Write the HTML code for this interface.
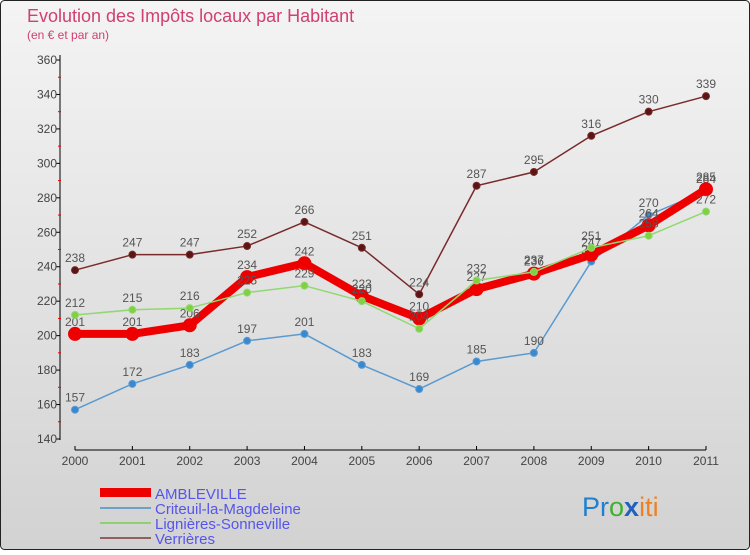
<!DOCTYPE html>
<html><head><meta charset="utf-8"><style>
body{margin:0;width:750px;height:550px;overflow:hidden;font-family:"Liberation Sans",sans-serif}
</style></head><body>
<svg id="c" width="750" height="550" xmlns="http://www.w3.org/2000/svg">
<defs><linearGradient id="bg" x1="0" y1="0" x2="0" y2="1"><stop offset="0" stop-color="#f4f4f4"/><stop offset="1" stop-color="#d2d2d2"/></linearGradient></defs>
<rect x="0.5" y="0.5" width="749" height="549" rx="4" fill="url(#bg)" stroke="#222"/>
<text x="27" y="22" font-size="18" fill="#d04070">Evolution des Impôts locaux par Habitant</text>
<text x="27" y="39" font-size="12" fill="#d04070">(en € et par an)</text>
<g id="axes"></g><g id="series"></g>
<g>
<rect x="100" y="488" width="51" height="9" fill="#e00"/>
<text x="155" y="499" font-size="15" fill="#5555ee">AMBLEVILLE</text>
<line x1="100" y1="508" x2="151" y2="508" stroke="#6fa0c8" stroke-width="2"/>
<text x="155" y="514" font-size="15" fill="#5555ee">Criteuil-la-Magdeleine</text>
<line x1="100" y1="523" x2="151" y2="523" stroke="#90d070" stroke-width="2"/>
<text x="155" y="529" font-size="15" fill="#5555ee">Lignières-Sonneville</text>
<line x1="100" y1="538" x2="151" y2="538" stroke="#906060" stroke-width="2"/>
<text x="155" y="544" font-size="15" fill="#5555ee">Verrières</text>
</g>
<text x="582" y="516" font-size="27"><tspan fill="#2080d0">Pr</tspan><tspan fill="#40b030">o</tspan><tspan fill="#2060c0" font-weight="bold">x</tspan><tspan fill="#f08020">iti</tspan></text>
</svg>
<script>
const years=[2000,2001,2002,2003,2004,2005,2006,2007,2008,2009,2010,2011];
const yTicks=[140,160,180,200,220,240,260,280,300,320,340,360];
const ambleville=[201,201,206,234,242,223,210,227,236,247,264,285];
const criteuil=[157,172,183,197,201,183,169,185,190,243,270,284];
const lignieres=[212,215,216,225,229,220,204,232,237,251,258,272];
const verrieres=[238,247,247,252,266,251,224,287,295,316,330,339];
const NS="http://www.w3.org/2000/svg";
const X=i=>75+i*(706-75)/11;
const Y=v=>439-(v-140)*(439-60)/220;
function mk(t,a,p){const e=document.createElementNS(NS,t);for(const k in a)e.setAttribute(k,a[k]);p.appendChild(e);return e;}
const ax=document.getElementById('axes');
const yl=mk('line',{x1:60,y1:55,x2:60,y2:440,stroke:'#000'},ax);


const xl=mk('line',{x1:75,y1:450,x2:706,y2:450,stroke:'#000'},ax);


yTicks.forEach(v=>{
 mk('line',{x1:56,y1:Y(v),x2:60,y2:Y(v),stroke:'#000'},ax);
 if(v<360)mk('line',{x1:58,y1:Y(v+10),x2:61,y2:Y(v+10),stroke:'#e00'},ax);
 const t=mk('text',{x:57,y:Y(v)+4,'font-size':12,fill:'#444','text-anchor':'end'},ax);t.textContent=v;
 
 
});
years.forEach((y,i)=>{
 mk('line',{x1:X(i),y1:446,x2:X(i),y2:450,stroke:'#000'},ax);
 const t=mk('text',{x:X(i),y:465,'font-size':12,fill:'#444','text-anchor':'middle'},ax);t.textContent=y;
 
 
});
const sg=document.getElementById('series');
function draw(data,name,col,w,r,dot){
 const g=mk('g',{},sg);
 
 
 const l=mk('polyline',{points:data.map((v,i)=>X(i)+','+Y(v)).join(' '),fill:'none',stroke:col,'stroke-width':w,'stroke-linejoin':'round'},g);
 
 
 data.forEach((v,i)=>{
  const c=mk('circle',{cx:X(i),cy:Y(v),r:r,fill:dot,stroke:col,'stroke-width':1},g);
  
  
  const t=mk('text',{x:X(i),y:Y(v)-8,'font-size':12,fill:'#555','text-anchor':'middle'},g);t.textContent=v;
  
  
 });
}
draw(verrieres,'verrieres','#7a2a2a',1.5,3.5,'#5a1515');
draw(criteuil,'criteuil','#5a9ad0',1.5,3.5,'#3a88d0');
draw(ambleville,'ambleville','#ee0000',8,6.5,'#ee0000');
draw(lignieres,'lignieres','#90d870',1.5,3.5,'#80d040');
</script>
</body></html>
